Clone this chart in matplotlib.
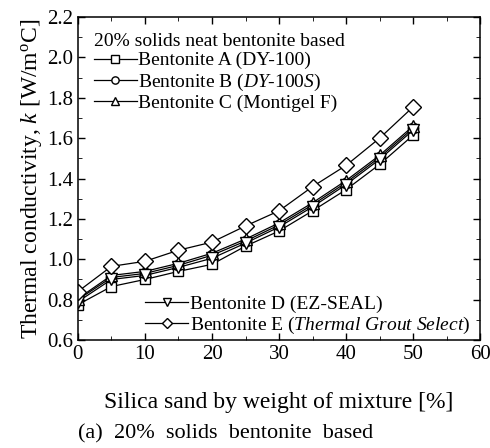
import matplotlib
import numpy as np

matplotlib.use("Agg")
import matplotlib.pyplot as plt
from matplotlib.ticker import MultipleLocator

plt.rcParams["font.family"] = ["Liberation Serif", "DejaVu Serif"]
plt.rcParams["mathtext.fontset"] = "custom"
plt.rcParams["mathtext.rm"] = "Liberation Serif"
plt.rcParams["mathtext.it"] = "Liberation Serif:italic"

# Silica sand content (%)
sand = [0, 5, 10, 15, 20, 25, 30, 35, 40, 45, 50]

# Thermal conductivity (W/m°C)
k_a = [0.775, 0.865, 0.900, 0.940, 0.975, 1.065, 1.140, 1.240, 1.345, 1.470, 1.615]
k_b = [0.800, 0.910, 0.930, 0.970, 1.020, 1.090, 1.170, 1.270, 1.380, 1.505, 1.650]
k_c = [0.805, 0.920, 0.940, 0.980, 1.030, 1.100, 1.180, 1.280, 1.390, 1.515, 1.660]
k_d = [0.790, 0.900, 0.920, 0.960, 1.005, 1.080, 1.160, 1.260, 1.370, 1.495, 1.640]
k_e = [0.840, 0.965, 0.990, 1.045, 1.085, 1.165, 1.240, 1.360, 1.465, 1.600, 1.755]

labels = [
    "Bentonite A (DY-100)",
    "Bentonite B ($\\it{DY}$-$\\it{100S}$)",
    "Bentonite C (Montigel F)",
    "Bentonite D (EZ-SEAL)",
    "Bentonite E ($\\it{Thermal\\ Grout\\ Select}$)",
]
markers = ["s", "o", "^", "v", "D"]
sizes = [7.5, 7.5, 8.5, 8.5, 8]

fig = plt.figure(figsize=(4.9, 4.48), dpi=100)
ax = fig.add_axes([0.159, 0.241, 0.821, 0.721])

lines = []
for k, lab, m, ms in zip([k_a, k_b, k_c, k_d, k_e], labels, markers, sizes):
    (ln,) = ax.plot(sand, k, color="black", lw=0.9, marker=m, ms=ms,
                    mfc="white", mec="black", mew=1.0, label=lab)
    lines.append(ln)

ax.set_xlim(0, 60)
ax.set_ylim(0.6, 2.2)
ax.xaxis.set_major_locator(MultipleLocator(10))
ax.xaxis.set_minor_locator(MultipleLocator(5))
ax.yaxis.set_major_locator(MultipleLocator(0.2))
ax.yaxis.set_minor_locator(MultipleLocator(0.1))
ax.yaxis.set_major_formatter(matplotlib.ticker.FormatStrFormatter("%.1f"))
ax.tick_params(which="both", direction="in", top=True, right=True, labelsize=15)
ax.tick_params(which="major", length=5, width=1)
ax.tick_params(which="minor", length=3)
for sp in ax.spines.values():
    sp.set_linewidth(1.1)

ax.set_xlabel("Silica sand by weight of mixture [%]", fontsize=17, labelpad=20)
ax.set_ylabel("Thermal conductivity, $\\it{k}$ [W/m$^{\\rm o}$C]", fontsize=17, labelpad=2)

leg_kw = dict(frameon=False, fontsize=14, handlelength=2.2, handletextpad=0.1,
              labelspacing=0.1, markerscale=0.7)
leg1 = ax.legend(handles=lines[:3], loc="upper left", bbox_to_anchor=(0.02, 0.975),
                 title="20% solids neat bentonite based", title_fontsize=14,
                 borderaxespad=0.0, alignment="left", **leg_kw)
ax.add_artist(leg1)
ax.legend(handles=lines[3:], loc="lower right", bbox_to_anchor=(1.0, -0.018),
          borderaxespad=0.1, **leg_kw)

fig.text(0.16, 0.022, "(a)  20%  solids  bentonite  based", fontsize=16, ha="left")

fig.savefig("out.png", dpi=100)
plt.close()
